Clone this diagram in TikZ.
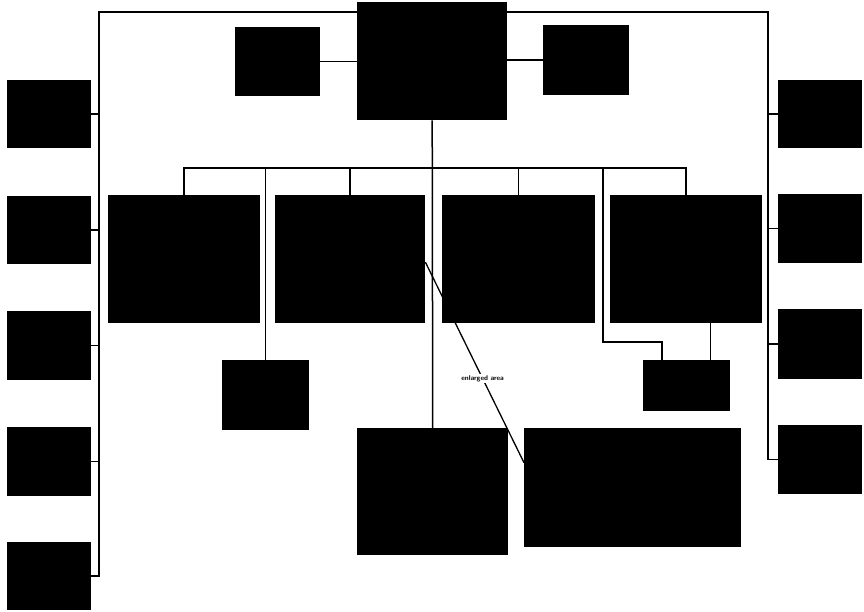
\documentclass[tikz,border=0pt]{standalone}
\usepackage{tikz}
\usetikzlibrary{positioning}

\begin{document}
\begin{tikzpicture}[x=1pt, y=-1pt]
    % Styles
    \tikzstyle{photo}=[rectangle, fill=black, inner sep=0pt, anchor=north west]
    \tikzstyle{link}=[line width=1.5pt]
    \tikzstyle{caption}=[fill=white, inner sep=1.5pt, font=\fontsize{7}{8}\selectfont\sffamily\bfseries]

    \useasboundingbox [fill=white] (0,0) rectangle (864,612);

    % Photos
    \node (top) [photo, minimum width=150pt, minimum height=118pt] at (357,2) {};
    \node (tl) [photo, minimum width=85pt, minimum height=69pt] at (235,27) {};
    \node (tr) [photo, minimum width=86pt, minimum height=70pt] at (543,25) {};

    \node (L1) [photo, minimum width=84pt, minimum height=68pt] at (7,80) {};
    \node (L2) [photo, minimum width=84pt, minimum height=68pt] at (7,196) {};
    \node (L3) [photo, minimum width=84pt, minimum height=69pt] at (7,311) {};
    \node (L4) [photo, minimum width=84pt, minimum height=69pt] at (7,427) {};
    \node (L5) [photo, minimum width=84pt, minimum height=68pt] at (7,542) {};

    \node (R1) [photo, minimum width=84pt, minimum height=68pt] at (778,80) {};
    \node (R2) [photo, minimum width=84pt, minimum height=69pt] at (778,194) {};
    \node (R3) [photo, minimum width=84pt, minimum height=70pt] at (778,309) {};
    \node (R4) [photo, minimum width=84pt, minimum height=69pt] at (778,425) {};

    \node (M1) [photo, minimum width=152pt, minimum height=128pt] at (108,195) {};
    \node (M2) [photo, minimum width=150pt, minimum height=128pt] at (275,195) {};
    \node (M3) [photo, minimum width=153pt, minimum height=128pt] at (442,195) {};
    \node (M4) [photo, minimum width=152pt, minimum height=128pt] at (610,195) {};

    \node (S1) [photo, minimum width=87pt, minimum height=70pt] at (222,360) {};
    \node (S2) [photo, minimum width=87pt, minimum height=51pt] at (643,360) {};

    \node (B1) [photo, minimum width=151pt, minimum height=127pt] at (357,428) {};
    \node (B2) [photo, minimum width=217pt, minimum height=119pt] at (524,428) {};

    % Bus points
    \coordinate (lbus) at (99,12);
    \coordinate (rbus) at (768,12);
    \coordinate (bus) at (432,168);
    \coordinate (elbow) at (603,342);
    \coordinate (s2l) at ([xshift=19pt]S2.north west);
    \coordinate (s2r) at ([xshift=-20pt]S2.north east);

    % Links
    \draw [link] (tl) -- (tl -| top.west);
    \draw [link] (tr) -- (tr -| top.east);

    \draw [link] (top.west |- lbus) -- (lbus) -- (lbus |- L5.east) -- (L5.east);
    \draw [link] (L1.east) -- (L1.east -| lbus);
    \draw [link] (L2.east) -- (L2.east -| lbus);
    \draw [link] (L3.east) -- (L3.east -| lbus);
    \draw [link] (L4.east) -- (L4.east -| lbus);

    \draw [link] (top.east |- rbus) -- (rbus) -- (rbus |- R4.west) -- (R4.west);
    \draw [link] (R1.west) -- (R1.west -| rbus);
    \draw [link] (R2.west) -- (R2.west -| rbus);
    \draw [link] (R3.west) -- (R3.west -| rbus);

    \draw [link] (top.south) -- (B1.north);
    \draw [link] (M1.north) -- (M1.north |- bus) -- (M4.north |- bus) -- (M4.north);
    \draw [link] (M2.north) -- (M2.north |- bus);
    \draw [link] (M3.north) -- (M3.north |- bus);
    \draw [link] (S1.north) -- (S1.north |- bus);
    \draw [link] (elbow |- bus) -- (elbow) -| (s2l);
    \draw [link] (s2r |- M4.south) -- (s2r);

    \draw [line width=1.3pt] ([yshift=-3pt]M2.east) -- node [caption, pos=0.58] {enlarged area} ([yshift=25pt]B2.west);

\end{tikzpicture}
\end{document}
